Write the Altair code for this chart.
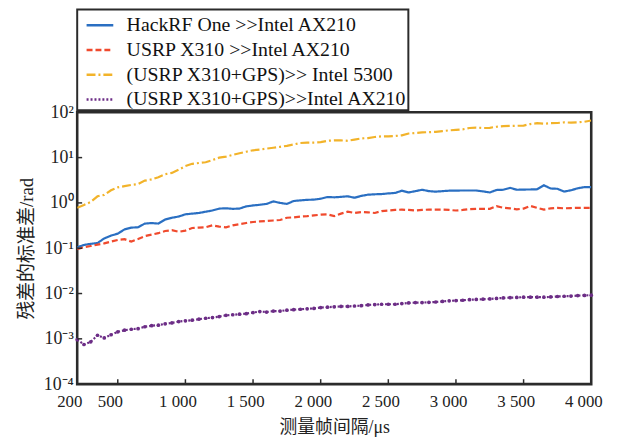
import altair as alt
import pandas as pd

x_vals = list(range(200, 4001, 50))

series_names = [
    "HackRF One >>Intel AX210",
    "USRP X310 >>Intel AX210",
    "(USRP X310+GPS)>> Intel 5300",
    "(USRP X310+GPS)>>Intel AX210",
]

hackrf = [0.105, 0.118, 0.125, 0.13, 0.165, 0.19, 0.21, 0.26, 0.285, 0.29,
          0.35, 0.36, 0.35, 0.43, 0.47, 0.5, 0.56, 0.58, 0.6, 0.64,
          0.68, 0.75, 0.76, 0.74, 0.75, 0.84, 0.88, 0.91, 0.95, 1.08,
          1.0, 0.95, 1.1, 1.14, 1.17, 1.18, 1.24, 1.35, 1.33, 1.36,
          1.4, 1.3, 1.43, 1.52, 1.55, 1.57, 1.62, 1.66, 1.86, 1.7,
          1.82, 1.95, 1.82, 1.77, 1.82, 1.86, 1.87, 1.88, 1.88, 1.88,
          1.8, 1.7, 1.93, 1.95, 2.15, 1.95, 1.97, 1.98, 2.0, 2.45,
          2.08, 2.05, 1.78, 1.9, 2.1, 2.24, 2.22]

usrp = [0.095, 0.105, 0.112, 0.12, 0.128, 0.14, 0.152, 0.158, 0.14, 0.16,
        0.185, 0.2, 0.215, 0.24, 0.25, 0.23, 0.245, 0.28, 0.285, 0.29,
        0.32, 0.3, 0.29, 0.32, 0.34, 0.36, 0.38, 0.39, 0.4, 0.41,
        0.42, 0.47, 0.48, 0.5, 0.51, 0.53, 0.55, 0.56, 0.51, 0.58,
        0.64, 0.6, 0.63, 0.62, 0.6, 0.66, 0.68, 0.7, 0.71, 0.7,
        0.68, 0.7, 0.71, 0.71, 0.71, 0.7, 0.68, 0.7, 0.73, 0.74,
        0.74, 0.74, 0.85, 0.78, 0.76, 0.72, 0.75, 0.86, 0.78, 0.71,
        0.76, 0.78, 0.76, 0.77, 0.78, 0.78, 0.78]

gps5300 = [0.78, 0.9, 1.05, 1.4, 1.5, 1.9, 2.2, 2.35, 2.5, 2.6,
           3.1, 3.3, 3.7, 4.3, 4.6, 5.4, 6.5, 7.3, 7.6, 7.9,
           8.8, 10.0, 10.5, 11.5, 12.5, 13.5, 14.5, 15.0, 15.8, 16.5,
           17.3, 18.2, 19.5, 21.0, 21.5, 21.5, 22.0, 23.5, 24.0, 24.0,
           23.5, 25.0, 26.5, 27.0, 28.5, 29.5, 29.5, 30.0, 31.0, 34.0,
           35.0, 36.0, 36.5, 37.0, 38.5, 40.0, 41.0, 42.0, 45.0, 46.0,
           45.0, 45.5, 48.0, 49.5, 50.0, 50.5, 51.0, 55.0, 57.5, 56.0,
           57.5, 58.0, 60.0, 59.0, 60.0, 62.0, 66.0]

gpsax210 = [0.00096, 0.00075, 0.00086, 0.0012, 0.00105, 0.00123, 0.00143, 0.00155, 0.00163, 0.00168,
            0.00185, 0.00195, 0.002, 0.00215, 0.00225, 0.0024, 0.0025, 0.00258, 0.00272, 0.00285,
            0.00295, 0.0031, 0.0033, 0.0034, 0.0035, 0.0036, 0.0038, 0.004, 0.0039, 0.0041,
            0.0041, 0.0043, 0.0044, 0.0045, 0.0046, 0.0047, 0.0049, 0.005, 0.0051, 0.0052,
            0.0052, 0.0053, 0.0054, 0.0056, 0.0057, 0.0058, 0.0058, 0.0058, 0.006, 0.0062,
            0.0063, 0.0063, 0.0064, 0.0065, 0.0067, 0.0069, 0.007, 0.0071, 0.0073, 0.0074,
            0.0075, 0.0076, 0.0078, 0.008, 0.0081, 0.0082, 0.0083, 0.0083, 0.0083, 0.0083,
            0.0084, 0.0086, 0.0087, 0.0088, 0.009, 0.0091, 0.0092]

x_ticks = [200, 500, 1000, 1500, 2000, 2500, 3000, 3500, 4000]
y_ticks = [1e-4, 1e-3, 1e-2, 1e-1, 1, 10, 100]

colors = ["#2a6fc2", "#f04a2d", "#f2b32a", "#6c2d86"]
dashes = [[1, 0], [6, 3], [9, 3, 2, 3], [2, 2]]

rows = []
for name, vals in zip(series_names, [hackrf, usrp, gps5300, gpsax210]):
    for xv, yv in zip(x_vals, vals):
        rows.append({"x": xv, "y": yv, "s": name})
df = pd.DataFrame(rows)

W, H = 520, 275
serif = "Liberation Serif"
cjk = "Liberation Serif, Noto Sans CJK SC"

xscale = alt.Scale(domain=[200, 4000], nice=False, zero=False)
yscale = alt.Scale(type="log", domain=[1e-4, 100], nice=False)

k = "round(log(datum.value)/LN10)"
sup_expr = (f"'10' + ({k} == 2 ? '²' : {k} == 1 ? '¹' : {k} == 0 ? '⁰' : {k} == -1 ? '⁻¹' : "
            f"{k} == -2 ? '⁻²' : {k} == -3 ? '⁻³' : '⁻⁴')")

lines = alt.Chart(df).mark_line(strokeWidth=2.2, clip=True).encode(
    x=alt.X("x:Q", scale=xscale,
            axis=alt.Axis(values=x_ticks, title="测量帧间隔/μs", grid=False, domain=False, ticks=False,
                          labelExpr="replace(format(datum.value, ','), ',', ' ')",
                          labelFont=serif, labelFontSize=17, labelColor="#222", labelPadding=10,
                          labelOffset=-8,
                          titleFont=cjk, titleFontSize=18, titleFontWeight="normal", titleColor="#222",
                          titlePadding=9, labelFlush=False)),
    y=alt.Y("y:Q", scale=yscale,
            axis=alt.Axis(values=y_ticks, title="残差的标准差/rad", grid=False, domain=False, ticks=False,
                          labelExpr=sup_expr, labelFont=serif, labelFontSize=18, labelColor="#222",
                          labelPadding=4, titleFont=cjk, titleFontSize=19, titleFontWeight="normal",
                          titleColor="#222", titlePadding=7)),
    color=alt.Color("s:N", scale=alt.Scale(domain=series_names, range=colors),
                    sort=series_names, title=None,
                    legend=alt.Legend(labelExpr="datum.label + '\u00a0\u00a0'")),
    strokeDash=alt.StrokeDash("s:N", scale=alt.Scale(domain=series_names, range=dashes),
                              sort=series_names, title=None,
                              legend=alt.Legend(labelExpr="datum.label + '\u00a0\u00a0'")),
    order=alt.Order("x:Q"),
)

pts = alt.Chart(df[df["s"] == series_names[3]]).mark_circle(size=14, color=colors[3], opacity=1).encode(
    x=alt.X("x:Q", scale=xscale),
    y=alt.Y("y:Q", scale=yscale),
)

xt_df = pd.DataFrame({"t": x_ticks[1:-1]})
xtick = alt.Chart(xt_df).mark_rule(color="#2b2b2b", strokeWidth=1.5).encode(
    x=alt.X("t:Q", scale=xscale),
    y=alt.value(H), y2=alt.value(H - 5),
)
yt_df = pd.DataFrame({"v": y_ticks[1:-1]})
ytick = alt.Chart(yt_df).mark_rule(color="#2b2b2b", strokeWidth=1.5).encode(
    y=alt.Y("v:Q", scale=yscale),
    x=alt.value(0), x2=alt.value(5),
)

chart = alt.layer(lines, pts, xtick, ytick).properties(
    width=W, height=H,
    autosize=alt.AutoSizeParams(type="none"),
    padding={"left": 70, "top": 103, "right": 20, "bottom": 55},
).configure_view(
    stroke="#2b2b2b", strokeWidth=2.6
).configure_legend(
    orient="none", legendX=0, legendY=-104,
    strokeColor="#2b2b2b", strokeWidth=2, fillColor="white",
    padding=1, rowPadding=-2, labelFont=serif, labelFontSize=20, labelColor="#111",
    symbolType="stroke", symbolSize=729, symbolStrokeWidth=2.5, symbolOffset=7,
    labelOffset=12, labelLimit=450,
)

chart.save("out.html", embed_options={"renderer": "svg", "actions": False})
